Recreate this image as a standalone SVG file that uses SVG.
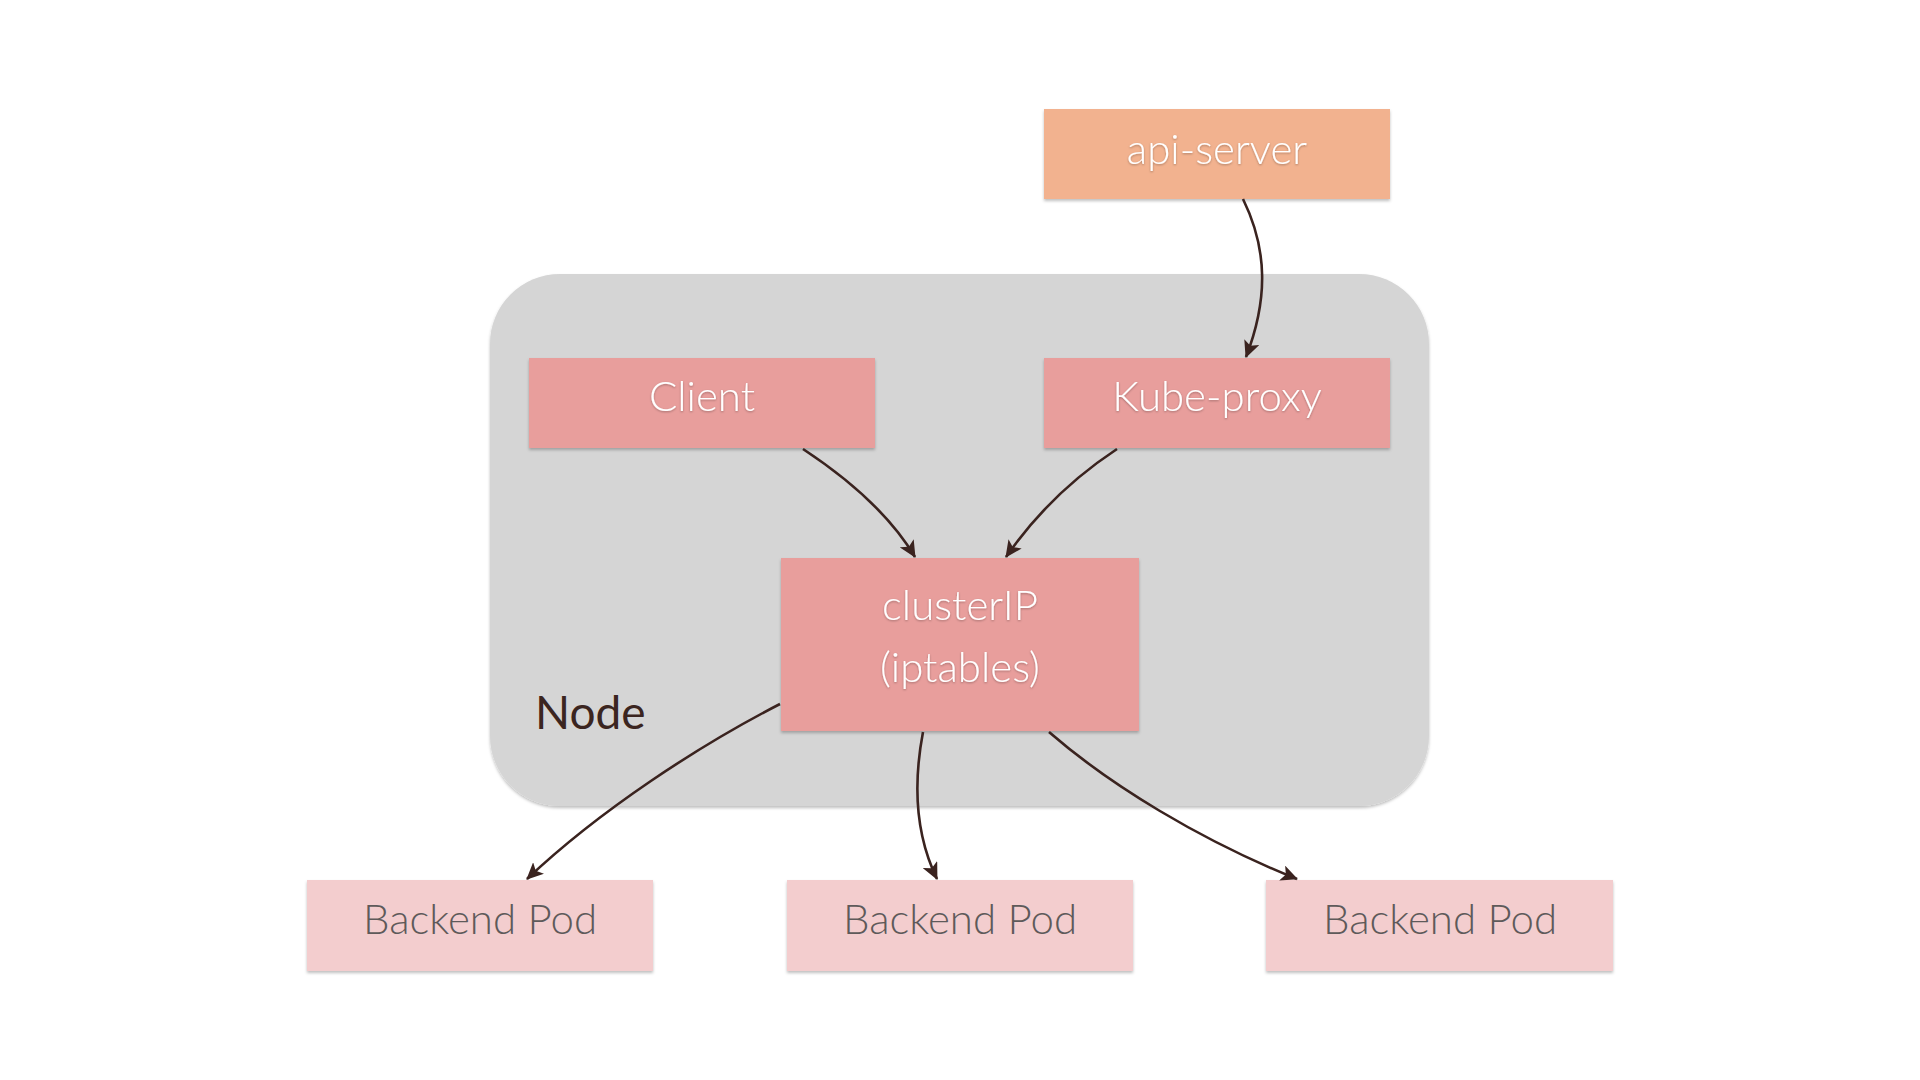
<svg xmlns="http://www.w3.org/2000/svg" width="1920" height="1080" viewBox="0 0 1920 1080">
<style>
.lbl{font-family:Lato,"Open Sans","Liberation Sans",sans-serif;font-size:42px;font-weight:300;text-anchor:middle}
.w{fill:#ffffff;filter:url(#ts)}
.g{fill:#5e5a5a}
.conn{fill:none;stroke:#3a231f;stroke-width:2.6}
</style>
<defs>
<filter id="sh" x="-10%" y="-10%" width="120%" height="130%">
<feDropShadow dx="0" dy="2" stdDeviation="1.5" flood-color="#000" flood-opacity="0.25"/>
</filter>
<filter id="ts" x="-10%" y="-20%" width="120%" height="150%">
<feDropShadow dx="0" dy="1" stdDeviation="1" flood-color="#000" flood-opacity="0.3"/>
</filter>
<marker id="ah" markerUnits="userSpaceOnUse" markerWidth="18" markerHeight="16" refX="16" refY="8" orient="auto">
<path d="M0,0 L17,8 L0,16 L4,8 Z" fill="#3a231f"/>
</marker>
</defs>
<rect width="1920" height="1080" fill="#ffffff"/>
<g id="node-container">
<rect x="490" y="274" width="939" height="532" rx="70" fill="#d5d5d5" filter="url(#sh)"/>
<text x="535" y="729" class="lbl" style="text-anchor:start;fill:#3b2520;font-size:46px;font-weight:400">Node</text>
</g>
<g id="api-server">
<rect x="1044" y="109" width="346" height="90" fill="#f2b28f" filter="url(#sh)"/>
<text x="1217" y="164" class="lbl w">api-server</text>
</g>
<g id="client">
<rect x="529" y="358" width="346" height="90" fill="#e89e9c" filter="url(#sh)"/>
<text x="702" y="411" class="lbl w">Client</text>
</g>
<g id="kube-proxy">
<rect x="1044" y="358" width="346" height="90" fill="#e89e9c" filter="url(#sh)"/>
<text x="1217" y="411" class="lbl w">Kube-proxy</text>
</g>
<g id="clusterip">
<rect x="781" y="558" width="358" height="173" fill="#e89e9c" filter="url(#sh)"/>
<text x="960" y="620" class="lbl w">clusterIP</text>
<text x="960" y="682" class="lbl w">(iptables)</text>
</g>
<g id="backend-pod-1">
<rect x="307" y="880" width="346" height="91" fill="#f3cdce" filter="url(#sh)"/>
<text x="480" y="934" class="lbl g">Backend Pod</text>
</g>
<g id="backend-pod-2">
<rect x="787" y="880" width="346" height="91" fill="#f3cdce" filter="url(#sh)"/>
<text x="960" y="934" class="lbl g">Backend Pod</text>
</g>
<g id="backend-pod-3">
<rect x="1266" y="880" width="347" height="91" fill="#f3cdce" filter="url(#sh)"/>
<text x="1440" y="934" class="lbl g">Backend Pod</text>
</g>
<g id="connectors">
<path class="conn" marker-end="url(#ah)" d="M1243,199 C1268,250 1268,300 1246,357"/>
<path class="conn" marker-end="url(#ah)" d="M803,449 C850,480 890,515 915,557"/>
<path class="conn" marker-end="url(#ah)" d="M1117,449 C1070,480 1035,515 1006,557"/>
<path class="conn" marker-end="url(#ah)" d="M780,704 C700,745 600,810 527,879"/>
<path class="conn" marker-end="url(#ah)" d="M923,732 C912,790 918,840 937,879"/>
<path class="conn" marker-end="url(#ah)" d="M1049,732 C1110,785 1200,840 1297,879"/>
</g>
</svg>
